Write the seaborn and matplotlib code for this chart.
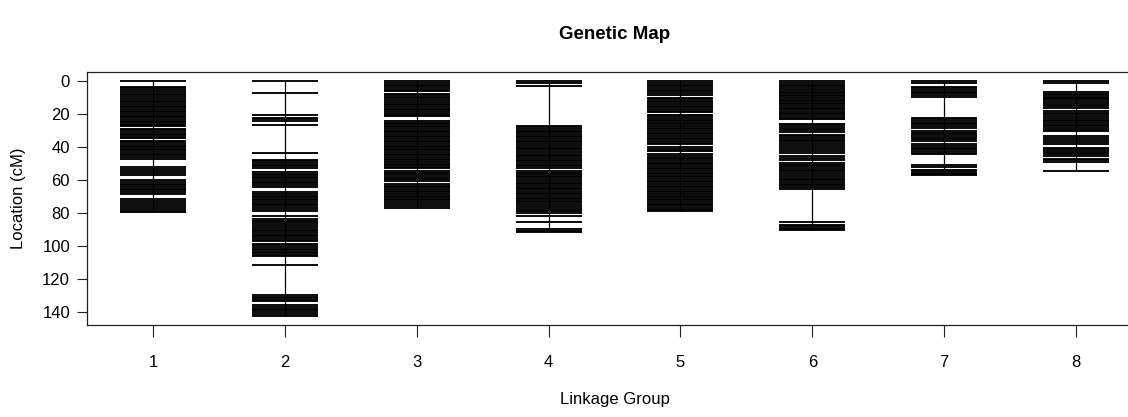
import numpy as np
import pandas as pd
import seaborn as sns
import matplotlib.pyplot as plt

# marker positions (cM), one list per linkage group
chr1 = [0, 3.2, 4.3, 5.2, 6.4, 7.5, 8.4, 9.6, 10.7, 11.8, 12.8, 13.8, 14.8, 15.8, 16.8,
        17.8, 18.8, 19.8, 20.8, 21.8, 22.8, 23.8, 24.8, 25.8, 26.8, 27.4, 28.9, 29.8,
        30.8, 31.8, 32.8, 33.8, 34.5, 36.0, 37.0, 38.0, 39.0, 40.0, 41.0, 42.0, 43.0,
        44.0, 45.0, 46.0, 47.4, 52.0, 53.2, 54.6, 55.8, 57.0, 60.2, 61.2, 62.2, 63.2,
        64.2, 65.2, 66.2, 67.4, 68.4, 71.2, 72.6, 73.8, 75.2, 76.4, 77.6, 78.8, 79.6]
chr2 = [0, 6.9, 20.7, 22.1, 23.1, 24.1, 26.6, 43.6, 47.6, 48.6, 49.6, 50.6, 51.6, 52.4,
        55.0, 56.0, 57.0, 58.0, 59.0, 60.0, 61.0, 62.0, 63.0, 64.2, 67.4, 68.4, 69.4,
        70.4, 71.4, 72.4, 73.4, 74.4, 75.4, 76.4, 77.4, 78.6, 81.8, 83.6, 84.6, 85.6,
        86.6, 88.2, 89.2, 90.2, 91.2, 92.2, 93.2, 94.2, 95.2, 96.2, 97.0, 98.6, 99.6,
        100.6, 101.6, 102.6, 103.6, 104.6, 105.6, 106.4, 111.6, 129.8, 130.8, 131.8,
        132.8, 133.8, 136.2, 137.2, 138.2, 139.2, 140.2, 141.2, 142.4]
chr3 = [0, 1, 2, 3, 4, 5, 5.8, 7.4, 8.4, 9.4, 10.2, 11.6, 12.6, 13.6, 14.6, 15.6, 16.6,
        17.6, 18.6, 19.6, 20.6, 21.2, 24.0, 25.0, 26.0, 27.0, 28.0, 29.0, 30.0, 31.0,
        32.0, 33.0, 34.0, 35.0, 36.0, 37.0, 38.0, 39.0, 40.0, 41.0, 42.0, 43.0, 44.0,
        45.0, 46.0, 47.0, 48.0, 49.0, 50.0, 51.0, 52.0, 52.8, 54.6, 55.6, 56.6, 57.6,
        58.6, 59.6, 60.6, 62.4, 63.4, 64.4, 65.4, 66.4, 67.4, 68.4, 69.4, 70.4, 71.4,
        72.4, 73.4, 74.6, 75.8, 77.0]
chr4 = [0, 1.2, 2.6, 27.0, 28.0, 29.0, 30.0, 31.0, 32.0, 33.0, 34.0, 35.0, 36.0, 37.0,
        38.0, 39.0, 40.2, 41.4, 42.4, 43.4, 44.6, 45.6, 46.6, 47.6, 48.6, 49.6, 50.6,
        51.6, 52.6, 54.4, 55.4, 56.4, 57.4, 58.4, 59.4, 60.6, 61.6, 62.6, 63.6, 64.6,
        65.6, 66.6, 67.6, 68.6, 69.6, 70.6, 71.6, 72.6, 73.6, 74.6, 75.6, 76.8, 78.0,
        79.0, 80.0, 81.6, 85.4, 89.8, 90.8, 91.8]
chr5 = [0, 1, 2, 3, 4, 5, 6, 7, 8.2, 9.8, 10.8, 11.8, 12.8, 13.8, 14.8, 15.8, 16.8,
        17.8, 18.8, 20.2, 21.2, 22.2, 23.2, 24.2, 25.2, 26.2, 27.2, 28.2, 29.2, 30.2,
        31.2, 32.2, 33.2, 34.2, 35.2, 36.2, 37.2, 38.2, 39.8, 40.8, 41.8, 42.4, 44.4,
        45.4, 46.4, 47.4, 48.4, 49.4, 50.4, 51.4, 52.4, 53.4, 54.4, 55.4, 56.4, 57.4,
        58.4, 59.4, 60.4, 61.4, 62.4, 63.4, 64.4, 65.4, 66.4, 67.4, 68.4, 69.4, 70.4,
        71.4, 72.4, 73.4, 74.4, 75.4, 76.4, 77.4, 78.4, 79.0]
chr6 = [0, 1, 2, 3, 4, 5, 6.2, 7.2, 8.0, 9.0, 10.2, 11.2, 12.0, 13.0, 14.0, 15.0, 16.0,
        17.0, 18.0, 19.0, 20.0, 21.0, 22.0, 22.8, 25.8, 26.8, 27.8, 28.8, 29.8, 30.8,
        32.4, 33.4, 34.4, 35.4, 36.4, 37.4, 38.4, 39.6, 41.4, 42.4, 43.4, 45.6, 46.6,
        47.6, 49.6, 50.6, 51.6, 52.6, 53.6, 54.6, 55.6, 57.2, 58.2, 59.2, 60.2, 61.2,
        62.2, 63.2, 64.2, 65.2, 85.2, 87.0, 88.0, 89.0, 90.0, 90.6]
chr7 = [0, 1.2, 3.2, 4.2, 5.2, 6.2, 7.2, 8.4, 9.6, 22.0, 23.0, 24.0, 25.0, 26.0, 27.0,
        28.2, 30.2, 31.2, 32.2, 33.2, 34.2, 35.2, 36.0, 37.8, 39.0, 40.4, 41.4, 42.4,
        43.4, 44.4, 50.6, 52.2, 53.6, 54.6, 55.6, 56.6, 57.2]
chr8 = [0, 1.0, 6.4, 7.4, 8.4, 9.4, 10.4, 11.0, 12.2, 13.2, 14.2, 15.2, 16.4, 18.0,
        19.0, 20.0, 21.0, 22.0, 23.2, 24.2, 25.2, 26.4, 27.4, 28.4, 29.4, 30.2, 33.4,
        34.4, 35.4, 36.6, 37.8, 40.4, 41.4, 42.4, 43.4, 44.4, 45.6, 47.0, 48.0, 49.2,
        54.2]

groups = [1, 2, 3, 4, 5, 6, 7, 8]
group_labels = ["1", "2", "3", "4", "5", "6", "7", "8"]
positions = [chr1, chr2, chr3, chr4, chr5, chr6, chr7, chr8]

df = pd.concat([pd.DataFrame({"group": g, "pos": p}) for g, p in zip(groups, positions)],
               ignore_index=True)

sns.set_style("ticks")
plt.rcParams["font.family"] = ["Liberation Sans Narrow", "Liberation Sans", "DejaVu Sans"]
plt.rcParams.update({"text.color": "black", "axes.labelcolor": "black",
                     "xtick.color": "black", "ytick.color": "black",
                     "axes.edgecolor": "black"})

fig = plt.figure(figsize=(11.28, 4.17), dpi=100)
ax = fig.add_axes([0.0771, 0.2206, 0.9353, 0.6067])

# chromosome backbone
ends = df.groupby("group")["pos"].agg(["min", "max"])
ax.vlines(ends.index, ends["min"], ends["max"], color="black", lw=0.9)

# one tick per marker
ax.hlines(df["pos"], df["group"] - 0.25, df["group"] + 0.25, color="black", lw=1.35)

top = max(max(p) for p in positions)
ax.set_xlim(0.5, 8.5)
ax.set_ylim(top * 1.04, -top * 0.04)
ax.set_xticks(groups)
ax.set_xticklabels(group_labels)
ax.set_yticks(np.arange(0, 141, 20))

for s in ax.spines.values():
    s.set_color("#222222")
    s.set_linewidth(0.9)
ax.tick_params(axis="x", length=8.6, width=0.8, pad=13, labelsize=12, color="#222222")
ax.tick_params(axis="y", length=7.2, width=0.8, pad=5, labelsize=12, color="#222222")

ax.set_title("Genetic Map", fontsize=13.5, fontweight="bold", y=1.13, pad=0)
ax.set_xlabel("Linkage Group", fontsize=12)
ax.xaxis.set_label_coords(0.5, -0.265)
ax.set_ylabel("Location (cM)", fontsize=12)
ax.yaxis.set_label_coords(-0.058, 0.5)

fig.savefig("out.png", dpi=100)
